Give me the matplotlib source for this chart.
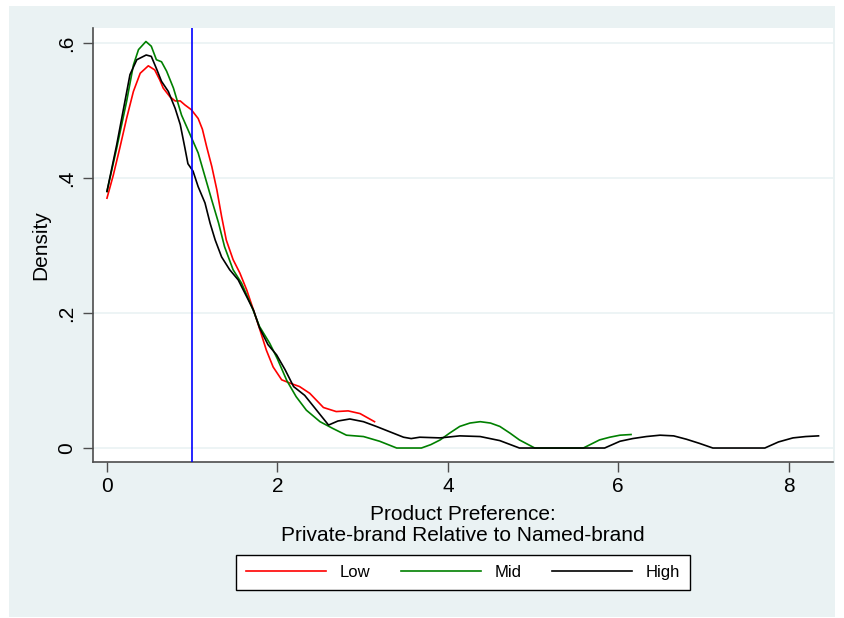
import matplotlib
matplotlib.use('Agg')
import matplotlib.pyplot as plt
from matplotlib.patches import Rectangle

plt.rcParams['font.family'] = ['Liberation Sans', 'DejaVu Sans']

# Kernel density estimates (x, density)
low_x = [0.0, 0.074, 0.15, 0.23, 0.31, 0.39, 0.485, 0.56, 0.62, 0.66, 0.74, 0.80,
         0.86, 0.915, 0.99, 1.07, 1.12, 1.17, 1.23, 1.29, 1.345, 1.40, 1.48, 1.56,
         1.64, 1.72, 1.79, 1.87, 1.95, 2.05, 2.15, 2.26, 2.38, 2.54, 2.69, 2.83,
         2.97, 3.14]
low_y = [0.370, 0.404, 0.444, 0.488, 0.528, 0.555, 0.566, 0.560, 0.545, 0.533, 0.520, 0.514,
         0.514, 0.508, 0.501, 0.488, 0.472, 0.446, 0.417, 0.382, 0.343, 0.308, 0.279, 0.259,
         0.234, 0.204, 0.177, 0.145, 0.120, 0.101, 0.096, 0.091, 0.081, 0.060, 0.054, 0.055,
         0.051, 0.039]

mid_x = [0.0, 0.114, 0.23, 0.31, 0.37, 0.457, 0.52, 0.58, 0.64, 0.70, 0.78, 0.875,
         0.99, 1.07, 1.15, 1.23, 1.31, 1.38, 1.48, 1.58, 1.70, 1.79, 1.91, 2.00,
         2.11, 2.22, 2.34, 2.50, 2.65, 2.81, 3.01, 3.20, 3.40, 3.69, 3.80, 3.91,
         4.02, 4.14, 4.26, 4.38, 4.50, 4.61, 4.73, 4.84, 5.02, 5.59, 5.78, 5.90,
         6.02, 6.15]
mid_y = [0.380, 0.444, 0.513, 0.567, 0.590, 0.602, 0.595, 0.575, 0.572, 0.558, 0.533, 0.493,
         0.460, 0.437, 0.402, 0.367, 0.333, 0.298, 0.264, 0.244, 0.209, 0.180, 0.155, 0.132,
         0.100, 0.076, 0.056, 0.039, 0.029, 0.019, 0.017, 0.010, 0.0, 0.0, 0.005, 0.012,
         0.022, 0.032, 0.037, 0.039, 0.037, 0.032, 0.022, 0.012, 0.0, 0.0, 0.012, 0.016,
         0.019, 0.020]

high_x = [0.0, 0.114, 0.27, 0.35, 0.46, 0.52, 0.58, 0.64, 0.72, 0.80, 0.86, 0.915,
          0.95, 1.01, 1.07, 1.15, 1.21, 1.27, 1.345, 1.44, 1.54, 1.62, 1.72, 1.79,
          1.89, 1.99, 2.09, 2.19, 2.32, 2.46, 2.60, 2.71, 2.85, 3.01, 3.16, 3.32,
          3.48, 3.57, 3.67, 3.91, 4.14, 4.38, 4.61, 4.84, 5.84, 6.02, 6.17, 6.33,
          6.49, 6.65, 6.80, 6.95, 7.11, 7.72, 7.88, 8.05, 8.20, 8.35]
high_y = [0.380, 0.449, 0.553, 0.575, 0.582, 0.580, 0.562, 0.543, 0.528, 0.503, 0.479, 0.444,
          0.421, 0.410, 0.387, 0.363, 0.333, 0.308, 0.283, 0.264, 0.249, 0.229, 0.204, 0.178,
          0.153, 0.138, 0.116, 0.091, 0.078, 0.056, 0.034, 0.040, 0.043, 0.039, 0.032, 0.024,
          0.016, 0.014, 0.016, 0.015, 0.018, 0.017, 0.011, 0.0, 0.0, 0.010, 0.014, 0.017,
          0.019, 0.018, 0.013, 0.007, 0.0, 0.0, 0.009, 0.015, 0.017, 0.018]

x_ticks = [0, 2, 4, 6, 8]
y_ticks = [0, 0.2, 0.4, 0.6]
y_tick_labels = ['0', '.2', '.4', '.6']
ref_line = 1.0

BG = '#EAF2F3'
AXC = '#4d4d4d'

fig = plt.figure(figsize=(8.44, 6.18), dpi=100)
fig.patch.set_facecolor('white')
fig.patches.append(Rectangle((9 / 844, 1 - 617 / 618), 826 / 844, 611 / 618,
                             transform=fig.transFigure, facecolor=BG,
                             edgecolor='none', zorder=-5))

ax = fig.add_axes([93 / 844, 1 - 462 / 618, 740 / 844, 434 / 618])
ax.set_facecolor('white')

ax.plot(low_x, low_y, color='#ff0000', lw=1.2, label='Low', zorder=3)
ax.plot(mid_x, mid_y, color='#008000', lw=1.2, label='Mid', zorder=3)
ax.plot(high_x, high_y, color='black', lw=1.2, label='High', zorder=3)
ax.axvline(ref_line, color='#0000ff', lw=1.2, zorder=4)

ax.set_xlim(-0.164, 8.52)
ax.set_ylim(-0.0207, 0.622)
ax.set_xticks(x_ticks)
ax.set_yticks(y_ticks)
ax.set_yticklabels(y_tick_labels, rotation=90, va='center')
ax.grid(True, axis='y', color=BG, lw=1.2, zorder=1)
ax.set_axisbelow(True)

for s in ['top', 'right']:
    ax.spines[s].set_visible(False)
for s in ['left', 'bottom']:
    ax.spines[s].set_color(AXC)
    ax.spines[s].set_linewidth(1.2)
ax.tick_params(axis='both', direction='out', length=7, width=1, color=AXC,
               labelsize=15, labelcolor='black')
ax.tick_params(axis='y', pad=5)
ax.tick_params(axis='x', pad=4)

ax.set_ylabel('Density', fontsize=15, labelpad=5)
ax.set_xlabel('Product Preference:\nPrivate-brand Relative to Named-brand',
              fontsize=15, labelpad=6, linespacing=1.15)

leg = fig.legend(loc='center', bbox_to_anchor=(463 / 844, 1 - 572.5 / 618), ncol=3,
                 fontsize=12, frameon=True, fancybox=False, edgecolor='black',
                 framealpha=1, handlelength=4.8, handletextpad=0.85,
                 columnspacing=1.8, borderpad=0.6)
leg.get_frame().set_linewidth(1.0)
leg.get_frame().set_facecolor('white')

plt.savefig('out.png', dpi=100)
plt.close()
